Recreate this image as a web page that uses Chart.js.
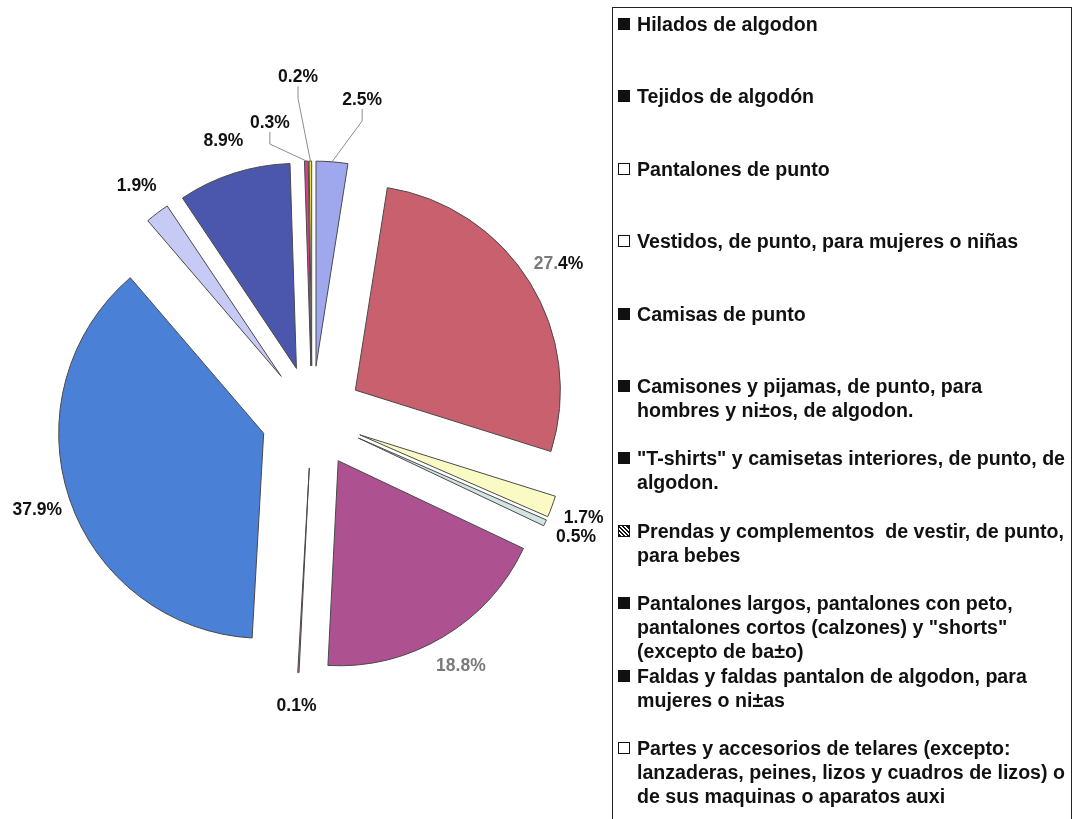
<!DOCTYPE html>
<html>
<head>
<meta charset="utf-8">
<script src="https://cdn.jsdelivr.net/npm/chart.js@4.4.1/dist/chart.umd.min.js"></script>
<style>
  body { margin: 0; background: #fff; width: 1075px; height: 819px; overflow: hidden; position: relative;
         font-family: "Liberation Sans", Arial, sans-serif; }
  #pie { position: absolute; left: 0; top: 0; }
  #legend { position: absolute; left: 612px; top: 7px; width: 460px; height: 812px; box-sizing: border-box;
            border: 1.5px solid #222; border-bottom: none; }
  .item { position: absolute; left: 24px; font-weight: bold; font-size: 19.6px; line-height: 24px;
          color: #111; white-space: pre; }
  .sw { position: absolute; left: -19px; top: 6px; width: 12px; height: 12px; box-sizing: border-box; }
  .solid { background: #111; }
  .open { background: #fff; border: 1.5px solid #111; }
  .hatch { border: 1.5px solid #111;
           background: repeating-linear-gradient(45deg, #111 0 1.5px, #fff 1.5px 3px); }
</style>
</head>
<body>
<canvas id="pie" width="624" height="819"></canvas>
<div id="legend"></div>
<script>
// Categories (legend order = slice order, clockwise from 12 o'clock)
var categories = [
  ["Hilados de algodon"],
  ["Tejidos de algodón"],
  ["Pantalones de punto"],
  ["Vestidos, de punto, para mujeres o niñas"],
  ["Camisas de punto"],
  ["Camisones y pijamas, de punto, para", "hombres y ni±os, de algodon."],
  ["\"T-shirts\" y camisetas interiores, de punto, de", "algodon."],
  ["Prendas y complementos  de vestir, de punto,", "para bebes"],
  ["Pantalones largos, pantalones con peto,", "pantalones cortos (calzones) y \"shorts\"", "(excepto de ba±o)"],
  ["Faldas y faldas pantalon de algodon, para", "mujeres o ni±as"],
  ["Partes y accesorios de telares (excepto:", "lanzaderas, peines, lizos y cuadros de lizos) o", "de sus maquinas o aparatos auxi"]
];

// Share of each category, percent
var shares = [2.5, 27.4, 1.7, 0.5, 18.8, 0.1, 37.9, 1.9, 8.9, 0.3, 0.2];

// Slice colours (as they look on the scanned original)
var slice_colors = ["#9fa8ec", "#c8606e", "#fafac4", "#d2e4e4", "#ad5190", "#e07878",
                    "#4a80d6", "#c6caf4", "#4b57ad", "#d8408a", "#efe23c"];
// Legend swatch look (the scan lost the colours)
var swatch_style = ["solid", "solid", "open", "open", "solid", "solid", "solid", "hatch", "solid", "solid", "open"];

// Exploded distance of every slice, px
var explode_dist = 51;
// Where the percentage labels go: distance of the text centre from the pie centre
var label_dist = 290;
// Labels that Excel moved and tied with a leader line: [angle shift in degrees, distance]
var leader_labels = { 0: [4.5, 321], 9: [-6.9, 297], 10: [-2, 340] };
// Number of leading characters printed in grey (scan artefact)
var grey_chars = [0, 3, 0, 0, 5, 0, 0, 0, 0, 0, 0];

// Build legend
var legend = document.getElementById("legend");
categories.forEach(function (lines, i) {
  var div = document.createElement("div");
  div.className = "item";
  div.style.top = (4 + 72.4 * i) + "px";
  div.textContent = lines.join("\n");
  var sw = document.createElement("span");
  sw.className = "sw " + swatch_style[i];
  div.appendChild(sw);
  legend.appendChild(div);
});

// Draws each slice moved out along its middle angle
var explode = {
  id: "explode",
  beforeDatasetDraw: function (chart, args) {
    var ctx = chart.ctx;
    args.meta.data.forEach(function (arc) {
      var mid = (arc.startAngle + arc.endAngle) / 2;
      ctx.save();
      ctx.translate(Math.cos(mid) * explode_dist, Math.sin(mid) * explode_dist);
      arc.draw(ctx);
      ctx.restore();
    });
    return false;
  }
};

// Percentage labels with leader lines for the tiny slices
var pctLabels = {
  id: "pctLabels",
  afterDatasetsDraw: function (chart) {
    var ctx = chart.ctx;
    var meta = chart.getDatasetMeta(0);
    ctx.save();
    ctx.font = 'bold 17.5px "Liberation Sans", Arial, sans-serif';
    ctx.textBaseline = "middle";
    meta.data.forEach(function (arc, i) {
      var mid = (arc.startAngle + arc.endAngle) / 2;
      var edge = explode_dist + arc.outerRadius;
      var ang = mid, dist = label_dist;
      var lead = leader_labels[i];
      if (lead) {
        ang = mid + lead[0] * Math.PI / 180;
        dist = lead[1];
      }
      var lx = arc.x + Math.cos(ang) * dist;
      var ly = arc.y + Math.sin(ang) * dist;
      if (lead) {
        ctx.strokeStyle = "#8c8c8c";
        ctx.lineWidth = 1;
        ctx.beginPath();
        ctx.moveTo(lx, ly + 9);
        ctx.lineTo(lx, ly + 21);
        ctx.lineTo(arc.x + Math.cos(mid) * edge, arc.y + Math.sin(mid) * edge);
        ctx.stroke();
      }
      var txt = shares[i].toFixed(1) + "%";
      var g = grey_chars[i];
      var x0 = lx - ctx.measureText(txt).width / 2;
      ctx.textAlign = "left";
      if (g) {
        ctx.fillStyle = "#7a7a7a";
        ctx.fillText(txt.slice(0, g), x0, ly);
        x0 += ctx.measureText(txt.slice(0, g)).width;
      }
      ctx.fillStyle = "#111";
      ctx.fillText(txt.slice(g), x0, ly);
    });
    ctx.restore();
  }
};

var chart = new Chart(document.getElementById("pie").getContext("2d"), {
  type: "pie",
  data: {
    labels: categories,
    datasets: [{
      data: shares,
      backgroundColor: slice_colors,
      borderColor: "#4a4a4a",
      borderWidth: 1,
      radius: 205
    }]
  },
  options: {
    responsive: false,
    animation: false,
    events: [],
    layout: { padding: { top: 15 } },
    plugins: {
      legend: { display: false },
      tooltip: { enabled: false }
    }
  },
  plugins: [explode, pctLabels]
});
</script>
</body>
</html>
